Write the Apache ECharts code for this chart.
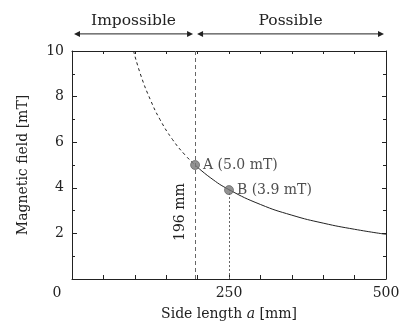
<!DOCTYPE html>
<html>
<head>
<meta charset="utf-8">
<script src="https://cdn.jsdelivr.net/npm/echarts@6/dist/echarts.min.js"></script>
<style>html,body{margin:0;padding:0;background:#fff}#c{width:408px;height:329px}</style>
</head>
<body>
<div id="c"></div>
<script>
// Data
const dashedA = [98, 110, 125, 140, 160, 180, 196];
const dashedB = [10, 8.9, 7.85, 7.0, 6.12, 5.44, 5.0];
const solidA = [196, 220, 250, 300, 350, 400, 450, 500];
const solidB = [5.0, 4.45, 3.92, 3.27, 2.8, 2.45, 2.18, 1.96];
const pointNames = ['A', 'B'];
const pointA = [196, 250];
const pointB = [5.0, 3.9];
const regionNames = ['Impossible', 'Possible'];
const regionEdges = [0, 196, 500];
const regionY = 10.75;
const xTickLabels = [0, 250, 500];
const yTickLabels = [2, 4, 6, 8, 10];

const FONT = 'DejaVu Serif';
const INK = '#222';

const chart = echarts.init(document.getElementById('c'));

const zip = (xs, ys) => xs.map((x, i) => [x, ys[i]]);

chart.setOption({
  animation: false,
  backgroundColor: '#fff',
  grid: { left: 72, right: 22, top: 51, bottom: 50, containLabel: false },
  textStyle: { fontFamily: FONT, color: INK },
  xAxis: [{
    type: 'value', min: 0, max: 500, interval: 50,
    axisLine: { show: true, onZero: false, lineStyle: { color: INK, width: 1 } },
    axisTick: { show: true, inside: true, length: 4, lineStyle: { color: INK } },
    splitLine: { show: false },
    axisLabel: {
      fontFamily: FONT, fontSize: 14, color: INK, margin: 7,
      formatter: v => xTickLabels.includes(v) ? (v === 0 ? '{z|0}' : String(v)) : '',
      rich: { z: { fontFamily: FONT, fontSize: 14, color: INK, padding: [0, 30, 0, 0] } }
    },
    name: '{t|Side length }{i|a}{t| [mm]}',
    nameLocation: 'middle', nameGap: 28,
    nameTextStyle: {
      rich: {
        t: { fontFamily: FONT, fontSize: 14, color: INK },
        i: { fontFamily: FONT, fontSize: 14, color: INK, fontStyle: 'italic' }
      }
    }
  }, {
    type: 'value', min: 0, max: 500, interval: 50, position: 'top',
    axisLine: { show: true, onZero: false, lineStyle: { color: INK, width: 1 } },
    axisTick: { show: true, inside: true, length: 3, lineStyle: { color: INK } },
    axisLabel: { show: false }, splitLine: { show: false }
  }],
  yAxis: [{
    type: 'value', min: 0, max: 10, interval: 2,
    axisLine: { show: true, onZero: false, lineStyle: { color: INK, width: 1 } },
    axisTick: { show: true, inside: true, length: 5, lineStyle: { color: INK } },
    minorTick: { show: true, splitNumber: 2, length: 3, lineStyle: { color: INK } },
    splitLine: { show: false },
    axisLabel: {
      fontFamily: FONT, fontSize: 14, color: INK, margin: 8,
      formatter: v => yTickLabels.includes(v) ? String(v) : ''
    },
    name: 'Magnetic field [mT]',
    nameLocation: 'middle', nameGap: 42, nameRotate: 90,
    nameTextStyle: { fontFamily: FONT, fontSize: 14, color: INK }
  }, {
    type: 'value', min: 0, max: 10, interval: 2, position: 'right',
    axisLine: { show: true, onZero: false, lineStyle: { color: INK, width: 1 } },
    axisTick: { show: true, inside: true, length: 4, lineStyle: { color: INK } },
    minorTick: { show: true, splitNumber: 2, length: 3, lineStyle: { color: INK } },
    axisLabel: { show: false }, splitLine: { show: false }
  }],
  series: [{
    type: 'line', smooth: true, symbol: 'none',
    data: zip(dashedA, dashedB),
    lineStyle: { color: INK, width: 1, type: [3, 3] },
    markLine: {
      silent: true, symbol: 'none',
      lineStyle: { color: '#666', width: 1, type: [4, 3] },
      label: {
        show: true, formatter: '196 mm', position: 'insideStartTop',
        fontFamily: FONT, fontSize: 14, color: INK, distance: [38, 8]
      },
      data: [{ xAxis: pointA[0] }]
    }
  }, {
    type: 'line', smooth: true, symbol: 'none',
    data: zip(solidA, solidB),
    lineStyle: { color: INK, width: 1 },
    markLine: {
      silent: true, symbol: 'none',
      lineStyle: { color: '#666', width: 1, type: [2, 2] },
      label: { show: false },
      data: [[{ coord: [pointA[1], 0] }, { coord: [pointA[1], pointB[1]] }]]
    }
  }, {
    type: 'scatter', clip: false,
    data: pointNames.map((n, i) => ({ name: n, value: [pointA[i], pointB[i]] })),
    symbolSize: 9, z: 5,
    itemStyle: { color: '#777', borderColor: '#555', borderWidth: 0.8 },
    label: {
      show: true, position: 'right', distance: 3,
      fontFamily: FONT, fontSize: 14, color: INK,
      formatter: p => p.name + ' (' + p.value[1].toFixed(1) + ' mT)'
    }
  }]
});

// Region arrows above the plot, positioned through the axis scales
const graphics = [];
const AH = 6, AW = 3;
regionNames.forEach((n, i) => {
  const p0 = chart.convertToPixel({ xAxisIndex: 0, yAxisIndex: 0 }, [regionEdges[i], regionY]);
  const p1 = chart.convertToPixel({ xAxisIndex: 0, yAxisIndex: 0 }, [regionEdges[i + 1], regionY]);
  const x0 = p0[0] + 2, x1 = p1[0] - 2, y = p0[1];
  graphics.push({
    type: 'line', silent: true,
    shape: { x1: x0 + AH - 1, y1: y, x2: x1 - AH + 1, y2: y },
    style: { stroke: INK, lineWidth: 1 }
  });
  graphics.push({
    type: 'polygon', silent: true,
    shape: { points: [[x0, y], [x0 + AH, y - AW], [x0 + AH, y + AW]] },
    style: { fill: INK }
  });
  graphics.push({
    type: 'polygon', silent: true,
    shape: { points: [[x1, y], [x1 - AH, y - AW], [x1 - AH, y + AW]] },
    style: { fill: INK }
  });
  graphics.push({
    type: 'text', silent: true,
    x: (x0 + x1) / 2, y: y - 5,
    style: {
      text: n, fontFamily: FONT, fontSize: 15.5, fill: INK,
      align: 'center', verticalAlign: 'bottom'
    }
  });
});
chart.setOption({ graphic: graphics });
</script>
</body>
</html>
